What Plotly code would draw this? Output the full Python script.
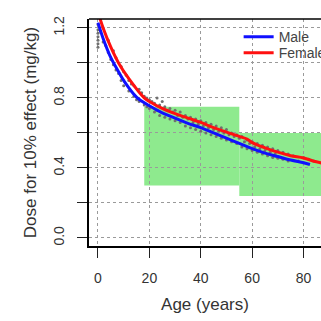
import plotly.graph_objects as go

# Fitted curves (age in years, dose in mg/kg)
male_age = [0, 2, 5, 8, 10, 15, 20, 25, 30, 35, 40, 45, 50, 55, 60, 65, 70, 75, 80, 82.5]
male_dose = [1.23, 1.14, 1.03, 0.95, 0.90, 0.805, 0.755, 0.715, 0.685, 0.655, 0.63, 0.60, 0.57, 0.54, 0.51, 0.485, 0.465, 0.445, 0.43, 0.42]

female_age = [0, 2, 5, 8, 12, 18, 20, 25, 30, 35, 40, 45, 50, 55, 58, 60, 65, 70, 75, 80, 85, 90]
female_dose = [1.29, 1.20, 1.09, 1.0, 0.91, 0.80, 0.78, 0.74, 0.71, 0.685, 0.66, 0.63, 0.605, 0.58, 0.565, 0.545, 0.515, 0.49, 0.47, 0.457, 0.435, 0.42]

# Individual estimates
pts_age = [0, 0, 0, 0, 0, 0, 0, 1, 2, 2, 3, 4, 4, 5, 6, 6, 7, 7, 8, 9, 9, 10, 10, 11, 12, 12, 13,
           14, 14, 15, 16, 16, 17, 18, 18, 19, 19, 20, 20, 21, 22, 22, 23, 23, 24, 24, 25, 26, 26,
           27, 28, 28, 29, 30, 30, 31, 32, 32, 33, 34, 34, 35, 36, 36, 37, 38, 38, 39, 40, 40, 41,
           42, 42, 43, 44, 44, 45, 46, 46, 47, 48, 48, 49, 50, 50, 51, 52, 52, 53, 54, 54, 55, 56,
           56, 57, 58, 58, 59, 60, 60, 61, 62, 62, 63, 64, 64, 65, 66, 66, 67, 68, 68, 69, 70, 70,
           72, 72, 74, 74, 76, 78, 80, 80, 82, 84]
pts_dose = [1.22, 1.19, 1.17, 1.15, 1.13, 1.11, 1.09, 1.18, 1.12, 1.20, 1.10, 1.06, 1.13, 1.02, 1.07, 0.99, 0.96, 1.03, 0.94, 0.98, 0.90, 0.87, 0.95, 0.93, 0.84, 0.90, 0.88,
            0.81, 0.87, 0.79, 0.85, 0.78, 0.83, 0.76, 0.81, 0.80, 0.75, 0.79, 0.74, 0.78, 0.72, 0.77, 0.80, 0.73, 0.76, 0.70, 0.78, 0.69, 0.75,
            0.73, 0.68, 0.74, 0.72, 0.67, 0.73, 0.70, 0.66, 0.72, 0.69, 0.64, 0.70, 0.68, 0.63, 0.69, 0.66, 0.62, 0.68, 0.65, 0.61, 0.67, 0.64,
            0.60, 0.66, 0.63, 0.59, 0.65, 0.62, 0.58, 0.64, 0.61, 0.57, 0.63, 0.60, 0.56, 0.62, 0.59, 0.55, 0.60, 0.58, 0.54, 0.59, 0.57, 0.52,
            0.58, 0.55, 0.51, 0.56, 0.54, 0.50, 0.55, 0.52, 0.49, 0.54, 0.51, 0.48, 0.53, 0.50, 0.47, 0.52, 0.49, 0.46, 0.51, 0.48, 0.455, 0.50,
            0.45, 0.49, 0.44, 0.48, 0.47, 0.44, 0.43, 0.46, 0.45, 0.44]

# Recommended dose ranges
range_age_lo = [18, 55]
range_age_hi = [55, 100]
range_dose_lo = [0.30, 0.24]
range_dose_hi = [0.75, 0.60]

x_ticks = [0, 20, 40, 60, 80]
y_ticks = [0.0, 0.2, 0.4, 0.6, 0.8, 1.0, 1.2]
y_tick_text = ["0.0", "", "0.4", "", "0.8", "", "1.2"]

fig = go.Figure()

fig.add_trace(go.Scatter(x=pts_age, y=pts_dose, mode="markers", showlegend=False,
                         marker=dict(size=3, color="#707070")))
fig.add_trace(go.Scatter(x=male_age, y=male_dose, mode="lines", name="Male", legend="legend",
                         line=dict(color="#1010ff", width=3, shape="spline")))
fig.add_trace(go.Scatter(x=female_age, y=female_dose, mode="lines", name="Female", legend="legend2",
                         line=dict(color="#ff1010", width=3, shape="spline")))

shapes = []
for a0, a1, d0, d1 in zip(range_age_lo, range_age_hi, range_dose_lo, range_dose_hi):
    shapes.append(dict(type="rect", xref="x", yref="y", x0=a0, x1=a1, y0=d0, y1=d1,
                       fillcolor="#8eea8e", line=dict(width=0), layer="below"))
# frame: top border (left/bottom come from axis lines)
shapes.append(dict(type="line", xref="paper", yref="paper", x0=0, x1=1, y0=1, y1=1,
                   line=dict(color="black", width=1.5)))

leg_common = dict(xanchor="left", yanchor="middle", bgcolor="rgba(0,0,0,0)",
                  font=dict(size=14, color="#444"))

fig.update_layout(
    width=321, height=321,
    margin=dict(l=89, r=0, t=19, b=75, autoexpand=False),
    paper_bgcolor="white", plot_bgcolor="white",
    font=dict(family="Liberation Sans, Arial, sans-serif", size=14, color="#333"),
    shapes=shapes,
    legend=dict(x=0.645, y=0.92, **leg_common),
    legend2=dict(x=0.645, y=0.85, **leg_common),
    xaxis=dict(range=[-3.5, 86.8], tickvals=x_ticks, ticks="outside", ticklen=10,
               tickcolor="#222", showline=True, linecolor="black", linewidth=1.5,
               showgrid=True, gridcolor="#9a9a9a", griddash="dot", gridwidth=1,
               zeroline=False, ticklabelstandoff=8,
               title=dict(text="Age (years)", standoff=14)),
    yaxis=dict(range=[-0.046, 1.251], tickvals=y_ticks, ticktext=y_tick_text, tickangle=-90,
               ticks="outside", ticklen=10, tickcolor="#222", showline=True, linecolor="black",
               linewidth=1.5, showgrid=True, gridcolor="#9a9a9a", griddash="dot", gridwidth=1,
               zeroline=False, ticklabelstandoff=8,
               title=dict(text="Dose for 10% effect (mg/kg)", standoff=10)),
)

fig.write_html("out.html")
